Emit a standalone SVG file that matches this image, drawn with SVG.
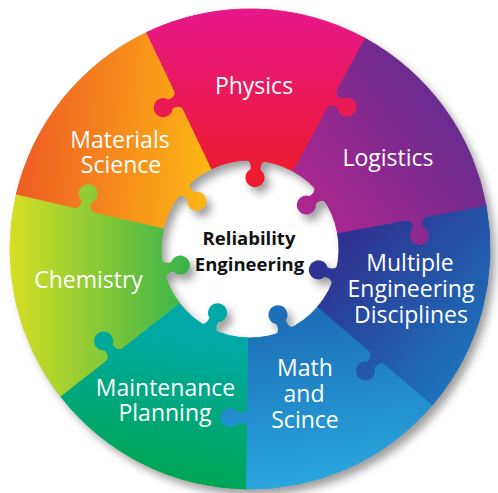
<svg xmlns="http://www.w3.org/2000/svg" xmlns:xlink="http://www.w3.org/1999/xlink" width="498" height="493" viewBox="0 0 498 493">
<defs>
<style>
.lbl{font-family:"Open Sans","Noto Sans","Liberation Sans",sans-serif;font-size:23px;fill:#fff;text-anchor:middle}
.ctr{font-family:"Open Sans","Noto Sans","Liberation Sans",sans-serif;font-size:18.5px;font-weight:bold;fill:#111;text-anchor:middle}
.wedge{stroke-width:1}
</style>
<filter id="shadow" x="-10%" y="-10%" width="120%" height="120%">
<feGaussianBlur in="SourceAlpha" stdDeviation="4"/>
<feOffset dx="5" dy="6" result="b"/>
<feFlood flood-color="#000" flood-opacity="0.38"/>
<feComposite in2="b" operator="in"/>
</filter>
<linearGradient id="gMat" gradientUnits="userSpaceOnUse" x1="15" y1="160" x2="215" y2="175"><stop offset="0" stop-color="#EE5A24"/><stop offset="1" stop-color="#FDBA14"/></linearGradient>
<linearGradient id="gPhys" gradientUnits="userSpaceOnUse" x1="250" y1="10" x2="250" y2="175"><stop offset="0" stop-color="#E6178A"/><stop offset="1" stop-color="#ED1B2D"/></linearGradient>
<linearGradient id="gLog" gradientUnits="userSpaceOnUse" x1="300" y1="205" x2="470" y2="80"><stop offset="0" stop-color="#AE268F"/><stop offset="1" stop-color="#5B2D8E"/></linearGradient>
<linearGradient id="gMul" gradientUnits="userSpaceOnUse" x1="335" y1="250" x2="470" y2="370"><stop offset="0" stop-color="#2E3192"/><stop offset="1" stop-color="#1C74BB"/></linearGradient>
<linearGradient id="gMath" gradientUnits="userSpaceOnUse" x1="300" y1="320" x2="320" y2="490"><stop offset="0" stop-color="#1C6FB8"/><stop offset="1" stop-color="#29A9E0"/></linearGradient>
<linearGradient id="gMaint" gradientUnits="userSpaceOnUse" x1="190" y1="330" x2="160" y2="485"><stop offset="0" stop-color="#00A9A8"/><stop offset="1" stop-color="#00A651"/></linearGradient>
<linearGradient id="gChem" gradientUnits="userSpaceOnUse" x1="12" y1="280" x2="190" y2="280"><stop offset="0" stop-color="#D5DE24"/><stop offset="1" stop-color="#36B44A"/></linearGradient>
</defs>
<rect width="498" height="493" fill="#fff"/>
<g id="shadow-layer" filter="url(#shadow)">
<path fill-rule="evenodd" d="M 10 249 A 240 240 0 1 1 490 249 A 240 240 0 1 1 10 249 Z M 161 249 A 89 89 0 1 0 339 249 A 89 89 0 1 0 161 249 Z"/>
<use xlink:href="#k1"/><use xlink:href="#k3"/><use xlink:href="#k5"/><use xlink:href="#k7"/><use xlink:href="#k9"/><use xlink:href="#k11"/><use xlink:href="#k14"/>
</g>
<g id="materials-science">
<path class="wedge" fill="url(#gMat)" stroke="url(#gMat)" d="M 16.15 195.01 A 240 240 0 0 1 146.68 32.38 L 211.68 168.67 A 89 89 0 0 0 163.28 228.98 Z"/>
<path id="k1" fill="url(#gMat)" d="M 174.34 197.03 L 175.83 198.37 C 179.85 193.91 184.57 196.14 187.51 199.47 A 9.5 9.5 0 1 0 194.21 192.04 C 190.59 189.45 187.88 184.99 191.89 180.53 L 190.40 179.19 Z"/>
<text class="lbl" x="120" y="148">Materials</text>
<text class="lbl" x="121" y="173">Science</text>
</g>
<g id="chemistry">
<path class="wedge" fill="url(#gChem)" stroke="url(#gChem)" d="M 60.88 396.76 A 240 240 0 0 1 16.15 195.01 L 163.28 228.98 A 89 89 0 0 0 179.87 303.79 Z"/>
<path id="k2" fill="url(#gChem)" d="M 95.60 215.41 L 96.05 213.46 C 90.21 212.11 89.87 206.90 91.35 202.71 A 9.5 9.5 0 1 0 81.61 200.46 C 81.10 204.88 78.51 209.41 72.67 208.06 L 72.22 210.01 Z"/>
<path id="k3" fill="url(#gChem)" d="M 164.03 281.16 L 165.98 280.71 C 164.63 274.87 169.16 272.28 173.58 271.77 A 9.5 9.5 0 1 0 171.33 262.03 C 167.14 263.51 161.93 263.17 160.58 257.33 L 158.63 257.78 Z"/>
<text class="lbl" x="88.5" y="288">Chemistry</text>
</g>
<g id="maintenance-planning">
<path class="wedge" fill="url(#gMaint)" stroke="url(#gMaint)" d="M 246.65 488.98 A 240 240 0 0 1 60.88 396.76 L 179.87 303.79 A 89 89 0 0 0 248.76 337.99 Z"/>
<path id="k4" fill="url(#gMaint)" d="M 125.15 349.08 L 123.92 347.50 C 119.19 351.20 114.93 348.18 112.60 344.39 A 9.5 9.5 0 1 0 104.72 350.55 C 107.84 353.72 109.73 358.58 105.00 362.28 L 106.23 363.86 Z"/>
<path id="k5" fill="url(#gMaint)" d="M 219.37 335.53 L 220.28 333.75 C 214.94 331.02 215.87 325.89 218.32 322.18 A 9.5 9.5 0 1 0 209.41 317.64 C 207.85 321.80 204.24 325.58 198.90 322.85 L 197.99 324.63 Z"/>
<text class="lbl" x="165.5" y="396">Maintenance</text>
<text class="lbl" x="165" y="421">Planning</text>
</g>
<g id="math-and-science">
<path class="wedge" fill="url(#gMath)" stroke="url(#gMath)" d="M 432.50 404.87 A 240 240 0 0 1 246.65 488.98 L 248.76 337.99 A 89 89 0 0 0 317.68 306.80 Z"/>
<path id="k6" fill="url(#gMath)" d="M 249.81 406.01 L 247.81 405.98 C 247.72 411.98 242.70 413.41 238.29 412.85 A 9.5 9.5 0 1 0 238.15 422.85 C 242.58 422.41 247.56 423.98 247.47 429.98 L 249.47 430.01 Z"/>
<path id="k7" fill="url(#gMath)" d="M 296.61 328.07 L 295.83 326.23 C 290.30 328.58 286.97 324.56 285.70 320.30 A 9.5 9.5 0 1 0 276.50 324.20 C 278.68 328.08 279.26 333.26 273.73 335.61 L 274.51 337.45 Z"/>
<text class="lbl" x="305" y="376">Math</text>
<text class="lbl" x="304" y="402">and</text>
<text class="lbl" x="305" y="428">Scince</text>
</g>
<g id="multiple-engineering-disciplines">
<path class="wedge" fill="url(#gMul)" stroke="url(#gMul)" d="M 485.98 205.26 A 240 240 0 0 1 432.50 404.87 L 317.68 306.80 A 89 89 0 0 0 337.51 232.78 Z"/>
<path id="k8" fill="url(#gMul)" d="M 369.16 348.15 L 367.87 349.67 C 372.43 353.56 370.32 358.34 367.07 361.38 A 9.5 9.5 0 1 0 374.67 367.87 C 377.17 364.19 381.55 361.36 386.12 365.25 L 387.42 363.73 Z"/>
<path id="k9" fill="url(#gMul)" d="M 340.53 264.13 L 338.62 263.54 C 336.86 269.28 331.64 269.26 327.56 267.48 A 9.5 9.5 0 1 0 324.64 277.05 C 329.01 277.86 333.36 280.76 331.60 286.50 L 333.51 287.08 Z"/>
<text class="lbl" x="410" y="271">Multiple</text>
<text class="lbl" x="411" y="297">Engineering</text>
<text class="lbl" x="411" y="323">Disciplines</text>
</g>
<g id="logistics">
<path class="wedge" fill="url(#gLog)" stroke="url(#gLog)" d="M 364.52 38.08 A 240 240 0 0 1 485.98 205.26 L 337.51 232.78 A 89 89 0 0 0 292.47 170.79 Z"/>
<path id="k10" fill="url(#gLog)" d="M 404.01 218.42 L 404.37 220.39 C 410.27 219.29 412.66 223.94 412.97 228.37 A 9.5 9.5 0 1 0 422.80 226.55 C 421.51 222.30 422.07 217.11 427.97 216.01 L 427.61 214.05 Z"/>
<path id="k11" fill="url(#gLog)" d="M 314.32 183.52 L 312.74 184.75 C 316.44 189.48 313.42 193.74 309.63 196.07 A 9.5 9.5 0 1 0 315.79 203.95 C 318.96 200.83 323.82 198.94 327.52 203.67 L 329.10 202.44 Z"/>
<text class="lbl" x="388" y="166">Logistics</text>
</g>
<g id="physics">
<path class="wedge" fill="url(#gPhys)" stroke="url(#gPhys)" d="M 146.68 32.38 A 240 240 0 0 1 364.52 38.08 L 292.47 170.79 A 89 89 0 0 0 211.68 168.67 Z"/>
<path id="k12" fill="url(#gPhys)" d="M 175.61 88.38 L 173.80 89.24 C 176.39 94.65 172.52 98.16 168.32 99.61 A 9.5 9.5 0 1 0 172.62 108.64 C 176.39 106.29 181.55 105.49 184.14 110.90 L 185.94 110.04 Z"/>
<path id="k13" fill="url(#gPhys)" d="M 324.11 108.31 L 325.86 109.27 C 328.73 103.99 333.84 105.06 337.48 107.61 A 9.5 9.5 0 1 0 342.25 98.82 C 338.13 97.15 334.45 93.45 337.32 88.17 L 335.56 87.22 Z"/>
<path id="k14" fill="url(#gPhys)" d="M 244.38 157.39 L 244.24 159.38 C 250.23 159.80 251.37 164.89 250.57 169.27 A 9.5 9.5 0 1 0 260.54 169.97 C 260.35 165.52 262.20 160.64 268.18 161.06 L 268.32 159.07 Z"/>
<text class="lbl" x="254" y="94">Physics</text>
</g>
<g id="reliability-engineering">
<text class="ctr" x="249" y="245">Reliability</text>
<text class="ctr" x="249.5" y="271">Engineering</text>
</g>
<g id="connectors"/>
</svg>
